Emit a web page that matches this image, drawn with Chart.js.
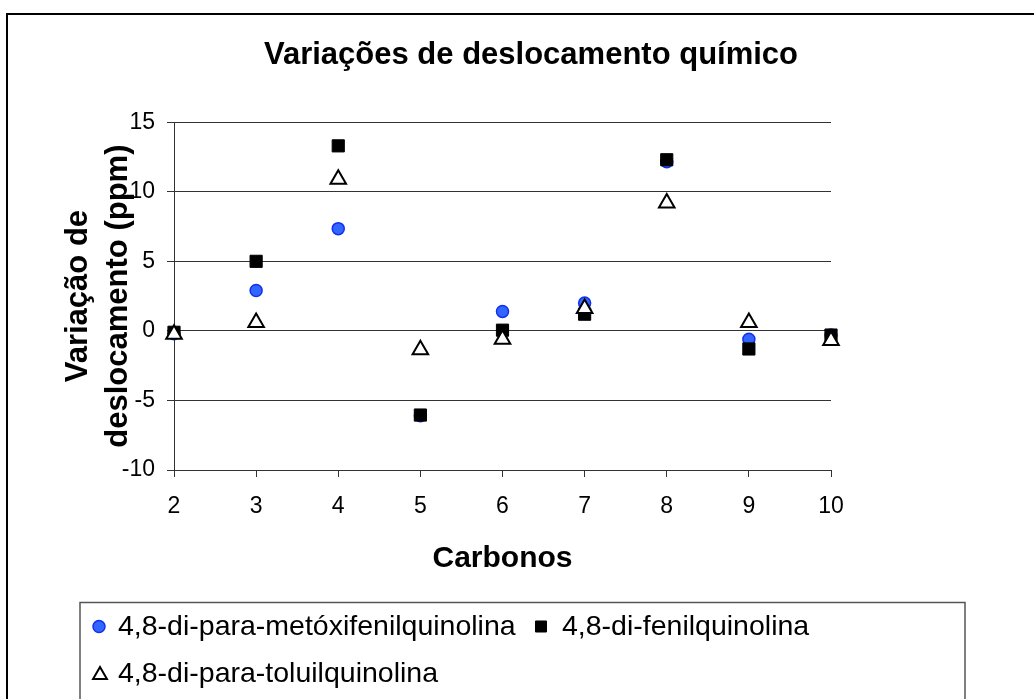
<!DOCTYPE html>
<html>
<head>
<meta charset="utf-8">
<script src="https://cdn.jsdelivr.net/npm/chart.js@4.4.1/dist/chart.umd.min.js"></script>
<style>
  html, body { margin: 0; padding: 0; background: #fff; }
  #wrap { width: 1034px; height: 699px; }
  canvas { display: block; }
</style>
</head>
<body>
<div id="wrap"><canvas id="c" width="1034" height="699"></canvas></div>
<script>
// Carbon positions on the quinoline ring
const carbonos = [2, 3, 4, 5, 6, 7, 8, 9, 10];

// Chemical shift variations (ppm) per compound
const metoxifenil = [-0.2, 2.9, 7.35, -6.1, 1.4, 2.0, 12.15, -0.6, -0.3];
const fenil       = [-0.1, 5.0, 13.3, -6.05, 0.05, 1.2, 12.3, -1.3, -0.3];
const toluil      = [-0.25, 0.6, 10.9, -1.35, -0.6, 1.6, 9.2, 0.6, -0.7];

const seriesNames = [
  '4,8-di-para-metóxifenilquinolina',
  '4,8-di-fenilquinolina',
  '4,8-di-para-toluilquinolina'
];

// Axis ranges and tick steps
const xRange = [2, 10], xStep = 1;
const yRange = [-10, 15], yStep = 5;

const FONT = '"Liberation Sans", Arial, Helvetica, sans-serif';

function pts(ys) { return carbonos.map((c, i) => ({ x: c, y: ys[i] })); }

// White page with the outer frame around the whole chart
const frame = {
  id: 'frame',
  beforeDraw(chart) {
    const ctx = chart.ctx;
    ctx.save();
    ctx.fillStyle = '#fff';
    ctx.fillRect(0, 0, chart.width, chart.height);
    ctx.strokeStyle = '#000';
    ctx.lineWidth = 2;
    ctx.strokeRect(7, 14, chart.width + 20, chart.height + 20);
    ctx.restore();
  }
};

// Boxed legend below the x-axis title, two rows
const boxedLegend = {
  id: 'boxedLegend',
  afterDraw(chart) {
    const ctx = chart.ctx;
    const ds = chart.data.datasets;
    ctx.save();
    ctx.strokeStyle = '#555';
    ctx.lineWidth = 1.5;
    ctx.strokeRect(80, 602.5, 885, 150);

    const items = [
      { i: 0, mx: 99, tx: 118, y: 626.5, r: 6 },
      { i: 1, mx: 541, tx: 562, y: 626.5, r: 7.8 },
      { i: 2, mx: 100, tx: 118, y: 673, r: 8 }
    ];
    ctx.font = '28.5px ' + FONT;
    ctx.textBaseline = 'middle';
    ctx.textAlign = 'left';
    items.forEach(it => {
      const d = ds[it.i];
      ctx.fillStyle = d.pointBackgroundColor;
      ctx.strokeStyle = d.pointBorderColor;
      ctx.lineWidth = d.pointBorderWidth;
      const py = d.pointStyle === 'triangle' ? it.y + it.r / 4 : it.y;
      Chart.helpers.drawPoint(ctx, {
        pointStyle: d.pointStyle, radius: it.r, rotation: 0,
        borderWidth: d.pointBorderWidth
      }, it.mx, py);
      ctx.fillStyle = '#000';
      ctx.fillText(d.label, it.tx, it.y + 1);
    });
    ctx.restore();
  }
};

new Chart(document.getElementById('c'), {
  type: 'scatter',
  data: {
    datasets: [
      {
        label: seriesNames[0], data: pts(metoxifenil), order: 3, clip: false,
        pointStyle: 'circle', pointRadius: 6,
        pointBackgroundColor: '#3366ff', pointBorderColor: '#1030f0', pointBorderWidth: 1.5
      },
      {
        label: seriesNames[1], data: pts(fenil), order: 2, clip: false,
        pointStyle: 'rect', pointRadius: 8.6,
        pointBackgroundColor: '#000', pointBorderColor: '#000', pointBorderWidth: 1
      },
      {
        label: seriesNames[2], data: pts(toluil), order: 1, clip: false,
        pointStyle: 'triangle', pointRadius: 9,
        pointBackgroundColor: '#fff', pointBorderColor: '#000', pointBorderWidth: 2
      }
    ]
  },
  options: {
    responsive: false,
    animation: false,
    events: [],
    devicePixelRatio: 1,
    layout: { padding: { left: 30, right: 2, top: 0, bottom: 109 } },
    plugins: {
      legend: { display: false },
      tooltip: { enabled: false },
      title: {
        display: true,
        text: 'Variações de deslocamento químico',
        color: '#000',
        font: { family: FONT, size: 31, weight: 'bold', lineHeight: 1.2 },
        padding: { top: 37, bottom: 48 }
      }
    },
    scales: {
      x: {
        type: 'linear', position: 'bottom',
        min: xRange[0], max: xRange[1],
        afterFit(s) { s.height = 120; },
        ticks: {
          stepSize: xStep, color: '#000', padding: 16,
          font: { family: FONT, size: 23 }
        },
        grid: { drawOnChartArea: false, drawTicks: true, tickLength: 7, color: '#333', lineWidth: 1 },
        border: { display: true, color: '#333', width: 1 },
        title: {
          display: true, text: 'Carbonos', color: '#000',
          font: { family: FONT, size: 30, weight: 'bold', lineHeight: 1.2 },
          padding: { top: 0, bottom: 13 }
        }
      },
      y: {
        type: 'linear', position: 'left',
        min: yRange[0], max: yRange[1],
        afterFit(s) { s.width = 144; },
        ticks: {
          stepSize: yStep, color: '#000', padding: 12,
          font: { family: FONT, size: 23 }
        },
        grid: { drawOnChartArea: true, drawTicks: true, tickLength: 7, color: '#333', lineWidth: 1 },
        border: { display: true, color: '#333', width: 1 },
        title: {
          display: true, text: ['Variação de', 'deslocamento (ppm)'], color: '#000',
          font: { family: FONT, size: 31, weight: 'bold', lineHeight: 1.29 },
          padding: { top: 28, bottom: 0 }
        }
      },
      // empty right-hand axis reserving the space to the right of the plot
      spacer: {
        type: 'linear', position: 'right', display: true,
        afterFit(s) { s.width = 201; },
        ticks: { display: false },
        grid: { display: false },
        border: { display: false }
      }
    }
  },
  plugins: [frame, boxedLegend]
});
</script>
</body>
</html>
